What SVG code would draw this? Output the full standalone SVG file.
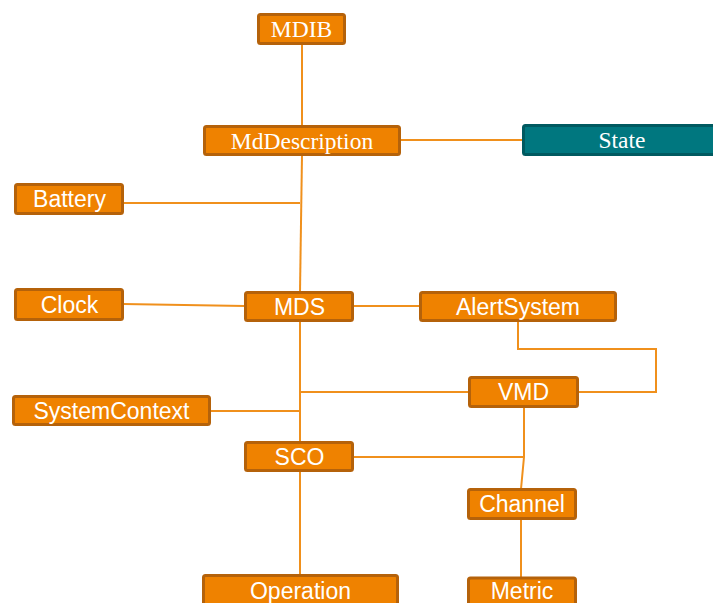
<svg xmlns="http://www.w3.org/2000/svg" width="713" height="603" viewBox="0 0 713 603">
  <style>
    .box { fill: #EF8200; stroke: #B5620A; stroke-width: 3; }
    .box-state { fill: #00777F; stroke: #005A60; stroke-width: 3; }
    .lbl { fill: #FFFFFF; font-size: 23px; text-anchor: middle; }
    .sans { font-family: "Liberation Sans", Arial, sans-serif; }
    .serif { font-family: "Liberation Serif", "Times New Roman", serif; font-size: 23.5px; }
    .link { fill: none; stroke: #F0901C; stroke-width: 2; }
  </style>
  <rect width="713" height="603" fill="#FFFFFF"/>

  <g id="connectors">
    <line class="link" x1="302" y1="45" x2="302" y2="126"/>
    <line class="link" x1="401" y1="140" x2="523" y2="140"/>
    <line class="link" x1="302" y1="155" x2="300" y2="292"/>
    <line class="link" x1="123" y1="203" x2="300" y2="203"/>
    <line class="link" x1="123" y1="304" x2="245" y2="306"/>
    <line class="link" x1="353" y1="306" x2="420" y2="306"/>
    <polyline class="link" points="518,321 518,349 656,349 656,392 578,392"/>
    <line class="link" x1="300" y1="321" x2="300" y2="442"/>
    <line class="link" x1="300" y1="392" x2="469" y2="392"/>
    <line class="link" x1="210" y1="411" x2="300" y2="411"/>
    <line class="link" x1="300" y1="471" x2="300" y2="576"/>
    <polyline class="link" points="524,407 524,457 521,489"/>
    <line class="link" x1="353" y1="457" x2="524" y2="457"/>
    <line class="link" x1="521" y1="519" x2="521" y2="578"/>
  </g>

  <g id="MDIB">
    <rect class="box" x="258.5" y="14.5" width="86" height="29" rx="2"/>
    <text class="lbl serif" x="301.5" y="37.3">MDIB</text>
  </g>
  <g id="MdDescription">
    <rect class="box" x="204.5" y="126.5" width="195" height="28" rx="2"/>
    <text class="lbl serif" x="302" y="148.5">MdDescription</text>
  </g>
  <g id="State">
    <rect class="box-state" x="523.5" y="125.5" width="198" height="29" rx="2"/>
    <text class="lbl serif" x="622" y="148.3">State</text>
  </g>
  <g id="Battery">
    <rect class="box" x="15.5" y="184.5" width="107" height="29" rx="2"/>
    <text class="lbl sans" x="69.5" y="206.5">Battery</text>
  </g>
  <g id="Clock">
    <rect class="box" x="15.5" y="289.5" width="107" height="30" rx="2"/>
    <text class="lbl sans" x="69.5" y="312.7">Clock</text>
  </g>
  <g id="MDS">
    <rect class="box" x="245.5" y="292.5" width="107" height="28" rx="2"/>
    <text class="lbl sans" x="299.5" y="315">MDS</text>
  </g>
  <g id="AlertSystem">
    <rect class="box" x="420.5" y="292.5" width="195" height="28" rx="2"/>
    <text class="lbl sans" x="518" y="314.8">AlertSystem</text>
  </g>
  <g id="VMD">
    <rect class="box" x="469.5" y="377.5" width="108" height="29" rx="2"/>
    <text class="lbl sans" x="523.5" y="399.5">VMD</text>
  </g>
  <g id="SystemContext">
    <rect class="box" x="13.5" y="396.5" width="196" height="28" rx="2"/>
    <text class="lbl sans" x="111.5" y="419">SystemContext</text>
  </g>
  <g id="SCO">
    <rect class="box" x="245.5" y="442.5" width="107" height="28" rx="2"/>
    <text class="lbl sans" x="299.5" y="465">SCO</text>
  </g>
  <g id="Channel">
    <rect class="box" x="468.5" y="489.5" width="107" height="29" rx="2"/>
    <text class="lbl sans" x="522" y="511.7">Channel</text>
  </g>
  <g id="Metric">
    <rect class="box" x="468.5" y="578" width="107" height="35" rx="2"/>
    <text class="lbl sans" x="522" y="598.5">Metric</text>
  </g>
  <g id="Operation">
    <rect class="box" x="203.5" y="575.5" width="194" height="35" rx="2"/>
    <text class="lbl sans" x="300.5" y="599">Operation</text>
  </g>
</svg>
